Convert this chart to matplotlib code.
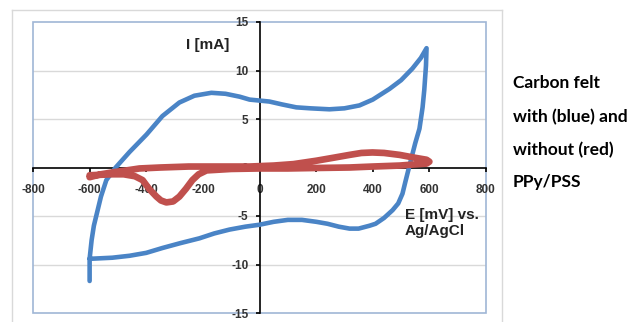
import matplotlib
matplotlib.use("Agg")
import matplotlib.pyplot as plt
from matplotlib.patches import Rectangle
from matplotlib.lines import Line2D

# blue: carbon felt with PPy/PSS (E in mV, I in mA)
blue_E = [-600, -600, -593, -585, -575, -560, -541, -508, -459, -399, -343, -283,
          -230, -170, -120, -70, -35, 0, 35, 80, 130, 180, 247, 300, 353, 400,
          459, 500, 540, 570, 590,
          588, 582, 576, 565, 550, 535, 528, 515, 505, 490, 470, 440, 410, 389, 350,
          318, 280, 240, 201, 150, 100, 50, 0, -50, -106, -160, -212, -280, -343,
          -400, -459, -520, -590, -600]
blue_I = [-11.7, -9.4, -7.5, -6.0, -4.8, -3.0, -1.3, 0.0, 1.6, 3.4, 5.3, 6.7,
          7.4, 7.7, 7.6, 7.3, 7.0, 6.9, 6.8, 6.5, 6.2, 6.1, 6.0, 6.1, 6.4, 7.0,
          8.1, 9.0, 10.2, 11.3, 12.3,
          10.5, 8.0, 6.2, 4.0, 2.5, 0.8, 0.0, -1.5, -2.7, -3.7, -4.4, -5.2, -5.8, -6.0, -6.3,
          -6.3, -6.1, -5.8, -5.6, -5.4, -5.4, -5.6, -5.9, -6.1, -6.4, -6.8, -7.3, -7.8, -8.3,
          -8.8, -9.1, -9.3, -9.4, -9.4]

# red: carbon felt without PPy/PSS
red_E = [-600, -560, -519, -470, -424, -350, -250, -150, -35, 50, 120, 201, 260, 318,
         360, 399, 440, 495, 550, 590, 600,
         590, 540, 495, 400, 318, 200, 100, 0, -100, -187, -215, -237, -260, -283,
         -305, -329, -348, -364, -390, -413, -440, -480, -520, -560, -600]
red_I = [-1.0, -0.7, -0.5, -0.3, -0.1, 0.0, 0.1, 0.1, 0.1, 0.2, 0.35, 0.7, 1.0, 1.3,
         1.5, 1.55, 1.5, 1.3, 1.0, 0.8, 0.6,
         0.4, 0.3, 0.2, 0.1, 0.0, -0.05, -0.1, -0.1, -0.15, -0.3, -0.7, -1.3, -2.2, -3.0,
         -3.5, -3.6, -3.4, -3.0, -2.2, -1.3, -0.9, -0.7, -0.7, -0.75, -0.8]

x_ticks = [-800, -600, -400, -200, 0, 200, 400, 600, 800]
y_ticks = [-15, -10, -5, 0, 5, 10, 15]

fig = plt.figure(figsize=(6.41, 3.22), dpi=100)
W, H = 641, 322

# outer chart frame
fr = dict(color="#d9d9d9", lw=1, transform=fig.transFigure)
fig.add_artist(Line2D([12/W, 12/W], [0, 1-10/H], **fr))
fig.add_artist(Line2D([502/W, 502/W], [0, 1-10/H], **fr))
fig.add_artist(Line2D([12/W, 502/W], [1-10/H, 1-10/H], **fr))

ax = fig.add_axes([33/W, 1-313/H, (486-33)/W, (313-22)/H])
ax.set_xlim(-800, 800)
ax.set_ylim(-15, 15)

for y in [-10, -5, 5, 10]:
    ax.axhline(y, color="#d9d9d9", lw=1, zorder=0)

ax.plot(blue_E, blue_I, color="#4a84c6", lw=3.3, solid_joinstyle="round",
        solid_capstyle="round", zorder=3)
ax.plot(red_E, red_I, color="#c0504d", lw=4.8, solid_joinstyle="round",
        solid_capstyle="round", zorder=4)

ax.spines["left"].set_position(("data", 0))
ax.spines["bottom"].set_position(("data", 0))
ax.spines["top"].set_visible(False)
ax.spines["right"].set_visible(False)
for s in ["left", "bottom"]:
    ax.spines[s].set_linewidth(1.2)
    ax.spines[s].set_zorder(2.5)
ax.add_patch(Rectangle((0, 0), 1, 1, transform=ax.transAxes, fill=False,
                       ec="#9fb6d6", lw=1.2, clip_on=False, zorder=1))

ax.set_xticks(x_ticks)
ax.set_yticks(y_ticks)
lab = dict(family="Liberation Sans", weight="bold", size=8.5, color="#333333")
ax.set_xticklabels([str(v) for v in x_ticks], **lab)
ax.set_yticklabels([str(v) for v in y_ticks], **lab)
ax.tick_params(axis="x", direction="out", length=3, width=1.2, pad=9)
ax.tick_params(axis="y", direction="out", length=3, width=1.2, pad=5)

tf = dict(family="Liberation Sans", weight="bold", size=11, color="#222222")
fig.text(208/W, 1-45/H, "I [mA]", ha="center", va="center", **tf)
fig.text(405/W, 1-215/H, "E [mV] vs.", ha="left", va="center", **tf)
fig.text(405/W, 1-231/H, "Ag/AgCl", ha="left", va="center", **tf)

rt = dict(family="Lato", weight="bold", size=12.5, color="black")
for txt, yb in [("Carbon felt", 88), ("with (blue) and", 122),
                ("without (red)", 155), ("PPy/PSS", 187)]:
    fig.text(513/W, 1-yb/H, txt, ha="left", va="baseline", **rt)

fig.savefig("out.png", dpi=100)
